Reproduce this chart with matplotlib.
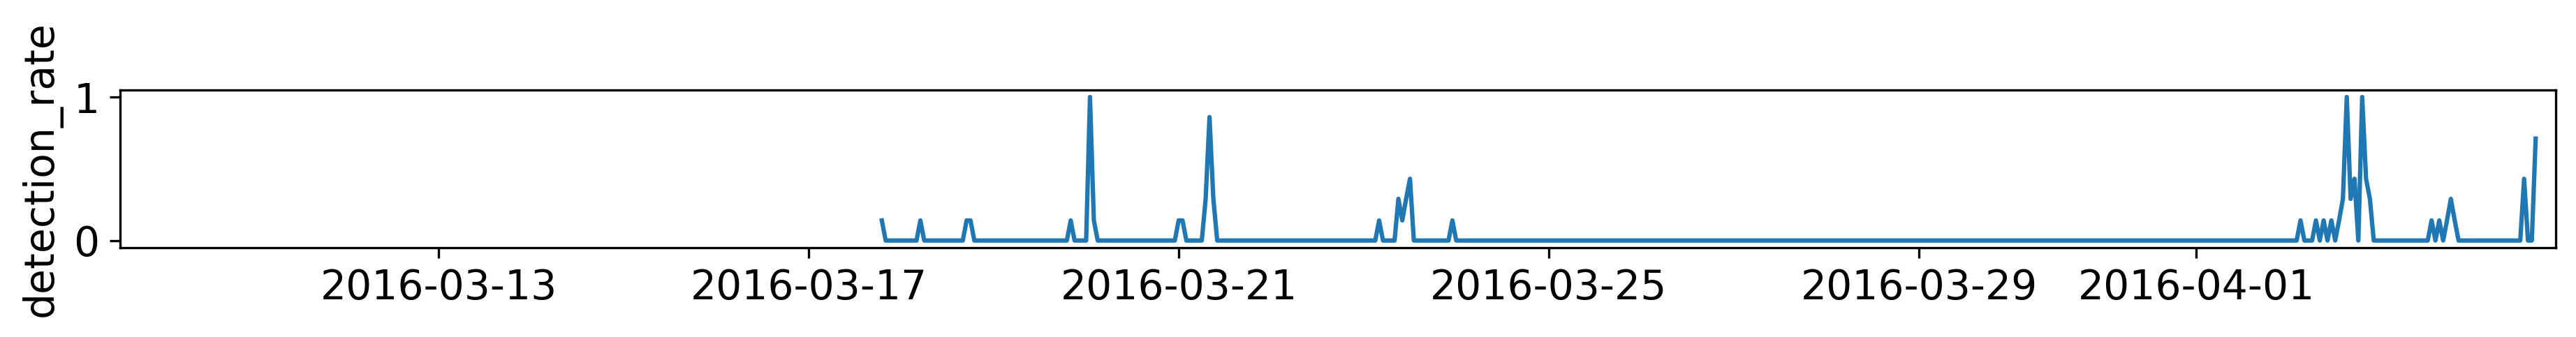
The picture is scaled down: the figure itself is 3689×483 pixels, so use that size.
import matplotlib
matplotlib.use('Agg')
import matplotlib.pyplot as plt
import matplotlib.dates as mdates
import numpy as np
import pandas as pd

# hourly series, 2016-03-17 19:00 .. 2016-04-04 16:00
start = '2016-03-17 19:00'
end = '2016-04-04 16:00'

# hours with a non-zero detection rate (all other hours are 0)
event_times = ['2016-03-17 19:00', '2016-03-18 05:00', '2016-03-18 17:00', '2016-03-18 18:00',
               '2016-03-19 20:00', '2016-03-20 01:00', '2016-03-20 02:00', '2016-03-21 00:00',
               '2016-03-21 01:00', '2016-03-21 07:00', '2016-03-21 08:00', '2016-03-21 09:00',
               '2016-03-23 04:00', '2016-03-23 09:00', '2016-03-23 10:00', '2016-03-23 11:00',
               '2016-03-23 12:00', '2016-03-23 23:00', '2016-04-02 03:00', '2016-04-02 07:00',
               '2016-04-02 09:00', '2016-04-02 11:00', '2016-04-02 13:00', '2016-04-02 14:00',
               '2016-04-02 15:00', '2016-04-02 16:00', '2016-04-02 17:00', '2016-04-02 19:00',
               '2016-04-02 20:00', '2016-04-02 21:00', '2016-04-03 13:00', '2016-04-03 15:00',
               '2016-04-03 17:00', '2016-04-03 18:00', '2016-04-03 19:00', '2016-04-04 13:00',
               '2016-04-04 16:00']
event_rates = [0.14, 0.14, 0.14, 0.14,
               0.14, 1.0, 0.14, 0.14,
               0.14, 0.29, 0.86, 0.29,
               0.14, 0.29, 0.14, 0.29,
               0.43, 0.14, 0.14, 0.14,
               0.14, 0.14, 0.14, 0.29,
               1.0, 0.29, 0.43, 1.0,
               0.43, 0.29, 0.14, 0.14,
               0.14, 0.29, 0.14, 0.43,
               0.71]

idx = pd.date_range(start, end, freq='h')
series = pd.Series(0.0, index=idx)
series[pd.to_datetime(event_times)] = event_rates

fig, ax = plt.subplots(figsize=(3689 / 300, 483 / 300), dpi=300)
fig.subplots_adjust(left=0.0466, right=0.9921, bottom=0.265, top=0.7335)

ax.plot(series.index, series.values, color='#1f77b4', linewidth=1.5)

ax.set_xlim(pd.Timestamp('2016-03-09 13:24'), pd.Timestamp('2016-04-04 21:11'))
ax.set_ylim(-0.05, 1.05)
ax.set_yticks([0, 1])
ax.xaxis.set_major_locator(mdates.DayLocator(bymonthday=range(1, 32, 4)))
ax.xaxis.set_major_formatter(mdates.DateFormatter('%Y-%m-%d'))
ax.tick_params(labelsize=14)
ax.set_ylabel('detection_rate', fontsize=14)

fig.savefig('out.png', dpi=300, facecolor='white')
